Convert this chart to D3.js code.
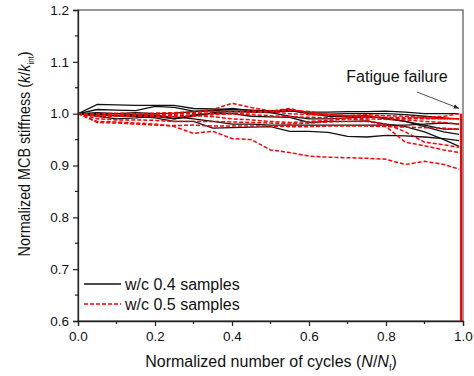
<!DOCTYPE html>
<html><head><meta charset="utf-8">
<script src="https://cdn.jsdelivr.net/npm/d3@7"></script>
<style>
html,body{margin:0;padding:0;background:#fff;}
svg{display:block;font-family:"Liberation Sans",Arial,sans-serif;}
</style></head>
<body>
<svg id="chart" width="474" height="376"></svg>
<script>
// ---- data ----
const xGrid = [0,0.05,0.1,0.15,0.2,0.25,0.3,0.35,0.4,0.45,0.5,0.55,0.6,0.65,0.7,0.75,0.8,0.85,0.9,0.95,0.99];
const blackSeries = [
  [1.0,1.018,1.017,1.016,1.016,1.016,1.010,1.009,1.008,1.007,1.006,1.005,1.003,1.003,1.004,1.004,1.005,1.003,1.000,1.000,1.000],
  [1.0,1.008,1.007,1.006,1.014,1.012,1.005,1.006,1.010,1.006,1.004,1.008,1.000,0.999,1.000,1.000,1.000,0.998,0.995,0.992,0.990],
  [1.0,0.995,0.990,0.992,0.995,0.990,0.995,1.002,1.004,1.003,1.002,1.006,1.000,0.995,0.995,0.996,0.990,0.985,0.975,0.965,0.960],
  [1.0,0.998,0.996,0.995,0.992,0.985,0.985,0.972,0.973,0.974,0.975,0.966,0.966,0.964,0.956,0.955,0.958,0.957,0.955,0.952,0.948],
  [1.0,1.002,1.000,0.998,0.997,0.990,0.998,1.000,1.000,0.995,0.994,0.993,0.983,0.985,0.985,0.986,0.980,0.975,0.965,0.950,0.937],
  [1.0,1.000,1.000,1.002,1.000,1.001,1.004,1.006,1.005,1.004,1.002,0.995,0.990,0.990,0.992,0.994,0.992,0.985,0.978,0.970,0.970],
  [1.0,0.998,0.996,0.997,0.996,0.994,0.990,0.985,0.980,0.980,0.978,0.978,0.978,0.978,0.978,0.978,0.978,0.978,0.980,0.982,0.980]
];
const redSeries = [
  [1.0,0.985,0.984,0.982,0.980,0.975,0.962,0.966,0.952,0.950,0.930,0.925,0.918,0.916,0.915,0.914,0.912,0.902,0.908,0.902,0.893],
  [1.0,0.998,0.997,0.998,0.998,1.000,1.002,1.008,1.020,1.012,1.005,1.010,1.000,0.998,0.996,0.998,0.996,0.995,0.992,0.990,0.990],
  [1.0,0.995,0.995,0.996,0.995,0.994,0.995,0.998,1.000,0.998,0.996,0.994,0.993,0.992,0.990,0.988,0.975,0.945,0.938,0.930,0.925],
  [1.0,0.990,0.988,0.988,0.987,0.985,0.985,0.985,0.984,0.983,0.982,0.980,0.982,0.984,0.985,0.985,0.980,0.965,0.945,0.940,0.935],
  [1.0,0.983,0.982,0.980,0.978,0.977,0.978,0.976,0.976,0.976,0.976,0.975,0.975,0.976,0.976,0.976,0.975,0.974,0.973,0.972,0.970],
  [1.0,1.000,1.001,1.000,1.001,1.002,1.003,1.004,1.004,1.005,1.004,1.007,1.004,0.998,0.995,0.994,0.993,0.992,0.993,0.995,1.000],
  [1.0,0.997,0.996,0.996,0.996,0.996,0.997,0.994,0.990,0.988,0.985,0.983,0.985,0.987,0.990,0.990,0.989,0.988,0.985,0.983,0.980],
  [1.0,0.999,0.999,0.999,0.999,0.999,1.000,1.001,1.000,1.002,1.004,1.000,0.998,0.997,0.996,0.994,0.992,0.990,0.990,0.990,0.990]
];
const failureX = 0.995;
const failureRange = [1.0, 0.6];
const xTicks = [0.0,0.2,0.4,0.6,0.8,1.0];
const yTicks = [0.6,0.7,0.8,0.9,1.0,1.1,1.2];
const legendLabels = ["w/c 0.4 samples","w/c 0.5 samples"];
const annotationText = "Fatigue failure";

// ---- layout ----
const svg = d3.select("#chart");
const m = {l:78, r:463, t:10, b:321};
const x = d3.scaleLinear().domain([0,1]).range([m.l, m.r]);
const y = d3.scaleLinear().domain([0.6,1.2]).range([m.b, m.t]);

svg.append("defs").append("clipPath").attr("id","pc")
  .append("rect").attr("x",m.l).attr("y",m.t).attr("width",m.r-m.l).attr("height",m.b-m.t);

// frame (top/right)
svg.append("rect").attr("x",m.l).attr("y",m.t).attr("width",m.r-m.l).attr("height",m.b-m.t)
  .attr("fill","none").attr("stroke","#555").attr("stroke-width",1.2);

const line = d3.line().x((d,i)=>x(xGrid[i])).y(d=>y(d));
const g = svg.append("g").attr("clip-path","url(#pc)");

// failure drop
g.append("line").attr("x1",x(failureX)).attr("x2",x(failureX))
  .attr("y1",y(failureRange[0])).attr("y2",y(failureRange[1]))
  .attr("stroke","#f00").attr("stroke-width",2.2);

blackSeries.forEach(s=>{
  g.append("path").attr("d",line(s)).attr("fill","none").attr("stroke","#111").attr("stroke-width",1.3);
});
redSeries.forEach(s=>{
  g.append("path").attr("d",line(s)).attr("fill","none").attr("stroke","#f00")
   .attr("stroke-width",1.5).attr("stroke-dasharray","4,2");
});

// axes
const xAxis = d3.axisBottom(x).tickValues(xTicks).tickFormat(d3.format(".1f")).tickSize(5).tickPadding(5);
const xg = svg.append("g").attr("transform",`translate(0,${m.b})`).call(xAxis);
const yAxis = d3.axisLeft(y).tickValues(yTicks).tickFormat(d3.format(".1f")).tickSize(5).tickPadding(4);
const yg = svg.append("g").attr("transform",`translate(${m.l},0)`).call(yAxis);
[xg,yg].forEach(a=>{
  a.select(".domain").attr("stroke","#222").attr("stroke-width",1.3);
  a.selectAll(".tick line").attr("stroke","#222").attr("stroke-width",1.2);
  a.selectAll(".tick text").attr("font-size",13.5).attr("fill","#111").attr("font-family","Liberation Sans, Arial, sans-serif");
});
// minor ticks
const xMinor = d3.range(0.1,1.0,0.2);
svg.append("g").selectAll("line").data(xMinor).join("line")
  .attr("x1",d=>x(d)).attr("x2",d=>x(d)).attr("y1",m.b).attr("y2",m.b+3)
  .attr("stroke","#222").attr("stroke-width",1.2);
const yMinor = d3.range(0.65,1.2,0.1);
svg.append("g").selectAll("line").data(yMinor).join("line")
  .attr("x1",m.l-3).attr("x2",m.l).attr("y1",d=>y(d)).attr("y2",d=>y(d))
  .attr("stroke","#222").attr("stroke-width",1.2);

// axis titles
const xt = svg.append("text").attr("x",271).attr("y",367).attr("text-anchor","middle")
  .attr("font-size",16).attr("fill","#111");
xt.append("tspan").text("Normalized number of cycles (");
xt.append("tspan").attr("font-style","italic").text("N");
xt.append("tspan").text("/");
xt.append("tspan").attr("font-style","italic").text("N");
xt.append("tspan").attr("font-size",9).attr("dy",4).text("f");
xt.append("tspan").attr("dy",-4).text(")");

const yt = svg.append("text").attr("transform",`translate(30,154) rotate(-90) scale(0.87,1)`)
  .attr("text-anchor","middle").attr("font-size",16.5).attr("fill","#111");
yt.append("tspan").text("Normalized MCB stiffness (");
yt.append("tspan").attr("font-style","italic").text("k");
yt.append("tspan").text("/");
yt.append("tspan").attr("font-style","italic").text("k");
yt.append("tspan").attr("font-size",9).attr("dy",4).text("int");
yt.append("tspan").attr("dy",-4).text(")");

// legend
const lg = svg.append("g");
const lgY = [284, 304];
legendLabels.forEach((t,i)=>{
  const ln = lg.append("line").attr("x1",84).attr("x2",121).attr("y1",lgY[i]).attr("y2",lgY[i])
    .attr("stroke", i===0?"#111":"#f00").attr("stroke-width",1.4);
  if(i===1) ln.attr("stroke-dasharray","4,2");
  lg.append("text").attr("x",125).attr("y",lgY[i]+5.5).attr("font-size",16).attr("fill","#111").text(t);
});

// annotation
svg.append("defs").append("marker").attr("id","arr").attr("viewBox","0 0 10 10")
  .attr("refX",10).attr("refY",5).attr("markerWidth",7).attr("markerHeight",7).attr("orient","auto")
  .append("path").attr("d","M0,1 L10,5 L0,9 z").attr("fill","#222");
svg.append("text").attr("x",397).attr("y",82).attr("text-anchor","middle").attr("font-size",16)
  .attr("fill","#111").text(annotationText);
svg.append("line").attr("x1",417).attr("y1",92).attr("x2",x(0.99)).attr("y2",y(1.01))
  .attr("stroke","#222").attr("stroke-width",0.8).attr("marker-end","url(#arr)");
</script>
</body></html>
